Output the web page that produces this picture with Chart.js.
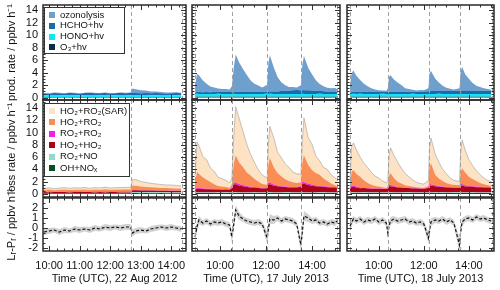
<!DOCTYPE html>
<html>
<head>
<meta charset="utf-8">
<script src="https://cdn.jsdelivr.net/npm/chart.js@4/dist/chart.umd.min.js"></script>
<style>
  html, body { margin: 0; padding: 0; background: #fff; }
  #wrap { position: relative; width: 500px; height: 290px; }
  #wrap canvas { position: absolute; left: 0; top: 0; }
</style>
</head>
<body>
<div id="wrap"></div>
<script>
// ---- 22 Aug 2012 ----
const col1Times = ['09:50','10:00','10:10','10:20','10:30','10:40','10:50','11:00','11:10','11:20',
  '11:30','11:40','11:50','12:00','12:10','12:20','12:30','12:40','12:44','12:50',
  '13:00','13:10','13:20','13:30','13:40','13:50','14:00','14:10','14:20'];
const col1Ozonolysis = [0.05,0.06,0.05,0.07,0.05,0.06,0.08,0.05,0.07,0.06,
  0.08,0.06,0.07,0.08,0.06,0.07,0.08,0.1,0.7,0.6,
  0.5,0.4,0.3,0.25,0.2,0.15,0.12,0.1,0.1];
const col1Hcho = [0.3,0.22,0.35,0.28,0.25,0.33,0.3,0.24,0.32,0.36,
  0.27,0.3,0.34,0.26,0.3,0.36,0.29,0.33,0.35,0.31,
  0.28,0.33,0.3,0.36,0.29,0.27,0.32,0.35,0.3];
const col1Hono = [0.3,0.31,0.3,0.32,0.3,0.31,0.29,0.3,0.31,0.3,
  0.32,0.3,0.31,0.3,0.29,0.31,0.3,0.3,0.31,0.32,
  0.3,0.31,0.3,0.29,0.3,0.31,0.3,0.3,0.29];
const col1O3 = [0.08,0.08,0.09,0.08,0.08,0.09,0.08,0.08,0.08,0.09,
  0.08,0.08,0.09,0.08,0.08,0.08,0.09,0.08,0.08,0.08,
  0.09,0.08,0.08,0.08,0.09,0.08,0.08,0.08,0.08];
const col1Sar = [0.25,0.3,0.22,0.28,0.32,0.25,0.3,0.27,0.33,0.26,
  0.3,0.28,0.34,0.27,0.31,0.3,0.33,0.3,0.95,1.0,
  0.85,0.75,0.65,0.6,0.55,0.5,0.52,0.48,0.45];
const col1Ho2Ro2 = [0.3,0.35,0.28,0.33,0.36,0.3,0.34,0.32,0.37,0.3,
  0.35,0.33,0.38,0.32,0.36,0.34,0.37,0.35,0.75,0.7,
  0.6,0.55,0.5,0.48,0.45,0.42,0.44,0.4,0.38];
const col1Ro2Ro2 = [0.02,0.02,0.02,0.02,0.02,0.02,0.02,0.02,0.02,0.02,
  0.02,0.02,0.02,0.02,0.02,0.02,0.02,0.02,0.04,0.04,
  0.03,0.03,0.03,0.03,0.02,0.02,0.02,0.02,0.02];
const col1Ho2Ho2 = [0.15,0.16,0.15,0.17,0.16,0.15,0.17,0.18,0.16,0.17,
  0.18,0.17,0.19,0.18,0.17,0.19,0.18,0.19,0.3,0.3,
  0.28,0.27,0.26,0.25,0.24,0.24,0.23,0.23,0.22];
const col1Ro2No = [0.05,0.05,0.04,0.05,0.05,0.06,0.05,0.05,0.05,0.04,
  0.05,0.05,0.06,0.05,0.05,0.05,0.06,0.06,0.15,0.16,
  0.15,0.14,0.15,0.14,0.13,0.14,0.13,0.12,0.12];
const col1OhNox = [0.12,0.13,0.12,0.11,0.12,0.13,0.12,0.12,0.11,0.12,
  0.13,0.12,0.12,0.11,0.12,0.13,0.12,0.12,0.14,0.14,
  0.13,0.14,0.13,0.13,0.14,0.13,0.12,0.13,0.13];
const col1Diff = [-0.4,-0.3,-0.2,-0.4,-0.2,-0.3,-0.1,-0.2,-0.1,-0.2,
  0.0,-0.1,0.1,0.0,0.1,0.0,0.1,0.1,-0.5,-0.3,
  -0.2,-0.3,-0.1,0.0,0.1,0.0,0.1,0.0,-0.1];
const col1DiffErr = [0.3,0.3,0.25,0.3,0.3,0.25,0.3,0.3,0.25,0.3,
  0.3,0.25,0.3,0.3,0.25,0.3,0.3,0.3,0.35,0.3,
  0.3,0.25,0.3,0.3,0.25,0.3,0.3,0.25,0.3];

// ---- 17 July 2013 ----
const col2Times = ['08:55','09:00','09:05','09:15','09:25','09:35','09:45','09:55','10:05','10:15',
  '10:25','10:31','10:36','10:41','10:50','11:00','11:10','11:20','11:30','11:40',
  '11:50','12:03','12:06','12:10','12:20','12:30','12:40','12:50','13:00','13:10',
  '13:20','13:31','13:35','13:39','13:50','14:00','14:10','14:20','14:30','14:40',
  '14:50','15:00','15:05'];
const col2Ozonolysis = [1.0,2.9,2.7,1.9,1.3,0.9,0.7,0.55,0.45,0.5,
  0.4,0.9,3.9,6.0,4.7,3.7,2.7,1.8,1.3,1.0,
  0.7,1.1,4.5,5.8,3.9,2.3,1.4,0.9,0.6,0.5,
  0.4,0.8,4.1,5.5,3.6,2.6,1.7,1.1,0.8,0.6,
  0.5,0.55,0.4];
const col2Hcho = [0.3,0.32,0.3,0.28,0.33,0.3,0.32,0.3,0.35,0.32,
  0.3,0.33,0.35,0.32,0.34,0.3,0.33,0.35,0.32,0.36,
  0.34,0.35,0.38,0.36,0.4,0.42,0.45,0.5,0.55,0.6,
  0.62,0.6,0.62,0.58,0.6,0.55,0.5,0.48,0.45,0.42,
  0.4,0.42,0.4];
const col2Hono = [0.45,0.47,0.44,0.46,0.45,0.43,0.46,0.48,0.45,0.44,
  0.46,0.45,0.47,0.44,0.45,0.46,0.43,0.45,0.47,0.45,
  0.44,0.46,0.45,0.48,0.45,0.44,0.46,0.45,0.43,0.45,
  0.46,0.44,0.47,0.45,0.46,0.44,0.45,0.47,0.45,0.44,
  0.46,0.45,0.44];
const col2O3 = [0.12,0.12,0.13,0.12,0.11,0.12,0.12,0.13,0.12,0.12,
  0.11,0.12,0.13,0.12,0.12,0.12,0.13,0.12,0.11,0.12,
  0.12,0.13,0.12,0.12,0.12,0.11,0.12,0.13,0.12,0.12,
  0.12,0.12,0.13,0.12,0.11,0.12,0.12,0.13,0.12,0.12,
  0.12,0.11,0.12];
const col2Sar = [1.2,4.9,4.6,3.4,3.3,2.3,2.1,1.4,1.3,1.1,
  0.8,1.0,4.5,7.9,7.2,5.8,4.6,3.4,2.7,1.9,
  1.5,1.1,3.4,5.1,4.8,3.4,3.0,2.5,2.2,1.7,
  1.5,1.3,3.8,6.1,4.5,4.2,2.8,2.3,1.8,1.9,
  1.4,1.2,1.1];
const col2Ho2Ro2 = [1.05,2.55,2.3,1.8,1.45,1.1,0.8,0.55,0.45,0.35,
  0.25,0.55,3.15,4.45,3.5,2.95,2.2,1.85,1.3,1.0,
  0.65,0.47,2.75,4.05,2.85,2.0,1.65,1.2,0.95,0.77,
  0.67,0.65,3.25,4.35,3.05,2.35,2.0,1.8,1.25,0.9,
  0.57,0.3,0.25];
const col2Ro2Ro2 = [0.1,0.2,0.15,0.1,0.1,0.08,0.05,0.05,0.05,0.05,
  0.05,0.1,0.3,0.3,0.25,0.2,0.15,0.1,0.1,0.08,
  0.05,0.08,0.3,0.3,0.2,0.15,0.1,0.1,0.1,0.08,
  0.08,0.1,0.3,0.3,0.2,0.2,0.15,0.1,0.1,0.1,
  0.08,0.08,0.05];
const col2Ho2Ho2 = [0.4,0.6,0.6,0.55,0.5,0.5,0.5,0.45,0.45,0.45,
  0.45,0.7,1.3,1.3,1.1,1.0,0.9,0.8,0.75,0.7,
  0.65,0.7,1.3,1.3,1.1,1.0,0.9,0.85,0.8,0.8,
  0.8,0.9,1.4,1.4,1.2,1.1,1.0,0.95,0.9,0.85,
  0.8,0.8,0.75];
const col2Ro2No = [0.1,0.1,0.11,0.1,0.09,0.1,0.1,0.11,0.1,0.1,
  0.09,0.1,0.11,0.1,0.1,0.1,0.09,0.1,0.11,0.1,
  0.1,0.1,0.11,0.1,0.09,0.1,0.1,0.11,0.1,0.1,
  0.09,0.1,0.11,0.1,0.1,0.1,0.09,0.1,0.11,0.1,
  0.1,0.1,0.1];
const col2OhNox = [0.16,0.15,0.14,0.15,0.16,0.15,0.14,0.15,0.15,0.16,
  0.15,0.14,0.15,0.16,0.15,0.15,0.14,0.15,0.16,0.15,
  0.15,0.14,0.15,0.16,0.15,0.14,0.15,0.15,0.16,0.15,
  0.14,0.15,0.16,0.15,0.15,0.14,0.15,0.16,0.15,0.15,
  0.14,0.15,0.15];
const col2Diff = [-0.9,0.1,0.8,0.5,0.7,0.4,0.6,0.5,0.6,0.4,
  0.3,-0.9,0.4,1.8,1.2,0.9,0.7,0.6,0.5,0.6,
  0.4,-1.0,-0.2,0.9,0.8,1.0,0.7,0.9,0.8,0.7,
  0.4,-1.7,-0.3,1.2,1.0,0.7,0.8,0.5,0.6,0.4,
  0.6,0.5,0.7];
const col2DiffErr = [0.5,0.5,0.4,0.3,0.3,0.3,0.3,0.3,0.3,0.3,
  0.3,0.6,0.6,0.5,0.4,0.3,0.3,0.3,0.3,0.3,
  0.3,0.6,0.6,0.5,0.4,0.3,0.3,0.3,0.3,0.3,
  0.3,0.7,0.6,0.5,0.4,0.3,0.3,0.3,0.3,0.3,
  0.3,0.3,0.3];

// ---- 18 July 2013 ----
const col3Times = ['08:43','08:47','08:52','09:00','09:10','09:20','09:30','09:40','09:50','10:00',
  '10:10','10:20','10:24','10:27','10:31','10:40','10:50','11:00','11:10','11:20',
  '11:30','11:40','11:50','12:00','12:12','12:15','12:19','12:30','12:40','12:50',
  '13:00','13:10','13:20','13:35','13:38','13:42','13:50','14:00','14:10','14:20',
  '14:30','14:40','14:50','15:00'];
const col3Ozonolysis = [0.8,3.0,3.4,2.6,1.9,1.3,0.9,0.6,0.4,0.3,
  0.25,0.2,0.6,2.4,2.7,2.0,1.5,1.1,0.6,0.45,
  0.3,0.2,0.25,0.2,0.5,2.9,3.2,2.0,1.3,0.8,
  0.5,0.3,0.2,0.4,3.0,3.8,2.6,1.9,1.2,0.8,
  0.6,0.4,0.3,0.2];
const col3Hcho = [0.32,0.3,0.33,0.31,0.3,0.34,0.32,0.3,0.33,0.31,
  0.3,0.32,0.34,0.33,0.3,0.32,0.34,0.31,0.33,0.35,
  0.34,0.36,0.38,0.4,0.42,0.44,0.45,0.48,0.5,0.52,
  0.5,0.53,0.55,0.52,0.54,0.56,0.55,0.53,0.55,0.52,
  0.5,0.52,0.5,0.48];
const col3Hono = [0.45,0.44,0.46,0.45,0.47,0.44,0.45,0.46,0.44,0.45,
  0.47,0.45,0.44,0.46,0.45,0.43,0.45,0.46,0.44,0.45,
  0.47,0.45,0.44,0.46,0.45,0.44,0.46,0.45,0.47,0.44,
  0.45,0.46,0.44,0.45,0.47,0.45,0.44,0.46,0.45,0.44,
  0.46,0.45,0.44,0.45];
const col3O3 = [0.12,0.12,0.13,0.12,0.12,0.11,0.12,0.12,0.13,0.12,
  0.12,0.12,0.11,0.12,0.13,0.12,0.12,0.12,0.11,0.12,
  0.12,0.13,0.12,0.12,0.12,0.11,0.12,0.12,0.13,0.12,
  0.12,0.12,0.11,0.12,0.13,0.12,0.12,0.12,0.11,0.12,
  0.12,0.13,0.12,0.12];
const col3Sar = [0.8,4.0,4.4,3.9,3.2,2.8,2.5,2.0,1.6,1.4,
  1.0,0.8,0.9,3.2,4.1,3.7,3.2,2.5,1.9,1.5,
  1.1,0.8,0.65,0.6,0.9,3.2,4.1,3.4,2.7,1.9,
  1.5,1.0,0.7,0.6,3.2,4.6,3.7,2.8,2.2,1.7,
  1.3,1.0,0.8,0.7];
const col3Ho2Ro2 = [0.4,2.25,2.55,2.1,1.75,1.15,0.82,0.6,0.4,0.3,
  0.25,0.15,0.4,1.55,1.95,1.3,0.85,0.6,0.37,0.3,
  0.25,0.15,0.15,0.1,0.27,2.7,3.4,1.7,1.25,0.9,
  0.67,0.5,0.45,0.35,2.0,2.6,2.05,1.45,1.15,0.9,
  0.62,0.5,0.3,0.25];
const col3Ro2Ro2 = [0.05,0.2,0.2,0.15,0.1,0.1,0.08,0.05,0.05,0.05,
  0.05,0.05,0.05,0.2,0.2,0.15,0.1,0.1,0.08,0.05,
  0.05,0.05,0.05,0.05,0.08,0.25,0.25,0.15,0.1,0.1,
  0.08,0.05,0.05,0.05,0.25,0.25,0.2,0.15,0.1,0.1,
  0.08,0.05,0.05,0.05];
const col3Ho2Ho2 = [0.5,0.9,0.9,0.8,0.7,0.7,0.65,0.6,0.6,0.6,
  0.55,0.55,0.6,1.0,1.0,0.9,0.8,0.75,0.7,0.7,
  0.65,0.65,0.6,0.6,0.7,1.1,1.1,1.0,0.9,0.85,
  0.8,0.8,0.75,0.75,1.1,1.1,1.0,0.95,0.9,0.85,
  0.85,0.8,0.8,0.75];
const col3Ro2No = [0.1,0.1,0.11,0.1,0.09,0.1,0.1,0.11,0.1,0.1,
  0.09,0.1,0.11,0.1,0.1,0.1,0.09,0.1,0.11,0.1,
  0.1,0.1,0.11,0.1,0.09,0.1,0.1,0.11,0.1,0.1,
  0.09,0.1,0.11,0.1,0.1,0.1,0.09,0.1,0.11,0.1,
  0.1,0.1,0.1,0.1];
const col3OhNox = [0.15,0.16,0.15,0.14,0.15,0.16,0.15,0.14,0.15,0.15,
  0.16,0.15,0.14,0.15,0.16,0.15,0.15,0.14,0.15,0.16,
  0.15,0.15,0.14,0.15,0.16,0.15,0.14,0.15,0.15,0.16,
  0.15,0.14,0.15,0.16,0.15,0.15,0.14,0.15,0.16,0.15,
  0.15,0.14,0.15,0.15];
const col3Diff = [0.2,0.5,0.9,0.7,0.9,0.6,0.8,0.7,0.9,0.6,
  0.8,0.5,-0.5,0.2,0.7,0.9,0.7,0.8,0.9,0.6,
  0.7,0.5,0.6,0.4,-1.0,-0.2,0.6,0.8,0.7,0.9,
  0.6,0.8,0.5,-1.7,-0.4,0.6,0.9,1.0,0.8,1.1,
  0.9,1.0,0.8,0.7];
const col3DiffErr = [0.4,0.4,0.3,0.3,0.3,0.3,0.3,0.3,0.3,0.3,
  0.3,0.3,0.6,0.5,0.4,0.3,0.3,0.3,0.3,0.3,
  0.3,0.3,0.3,0.3,0.6,0.6,0.4,0.3,0.3,0.3,
  0.3,0.3,0.3,0.7,0.6,0.4,0.3,0.3,0.3,0.3,
  0.3,0.3,0.3,0.3];

// axis ranges, tick labels, cycle markers
const col1Range = ['09:48', '14:29'];
const col2Range = ['08:47', '15:13'];
const col3Range = ['08:35', '15:07'];
const col1Hours = [10, 11, 12, 13, 14];
const col2Hours = [10, 12, 14];
const col3Hours = [10, 12, 14];
const col1Cycles = ['12:41', '14:21'];
const col2Cycles = ['08:55', '10:31', '12:03', '13:31', '15:05'];
const col3Cycles = ['08:43', '10:24', '12:13', '13:36', '15:01'];
const prodTicks = [0, 2, 4, 6, 8, 10, 12, 14];
const lossTicks = [0, 2, 4, 6, 8, 10, 12, 14];
const diffTicks = [-2, -1, 0, 1, 2];

const FONT = "'Liberation Sans', Arial, sans-serif";

function toHours(t) {
	const [h, m] = t.split(':').map(Number);
	return h + m / 60;
}

function pts(times, vals) {
	return times.map((t, i) => ({ x: toHours(t), y: vals[i] }));
}

function area(label, times, vals, color, fill, border) {
	return {
		label: label,
		data: pts(times, vals),
		backgroundColor: color,
		borderColor: border || color,
		borderWidth: border ? 0.7 : 0,
		pointRadius: 0,
		fill: fill,
	};
}

function prodSets(times, o3, hono, hcho, ozo) {
	return [
		area('O₃+hv', times, o3, '#0b2c48', 'origin'),
		area('HONO+hv', times, hono, '#14e3f5', '-1'),
		area('HCHO+hv', times, hcho, '#1b6ab0', '-1'),
		area('ozonolysis', times, ozo, '#6f9fcc', '-1'),
	];
}

function lossSets(times, ohnox, ro2no, ho2ho2, ro2ro2, ho2ro2, sar) {
	return [
		area('OH+NOₓ', times, ohnox, '#0b4d1f', 'origin'),
		area('RO₂+NO', times, ro2no, '#8fdccb', '-1'),
		area('HO₂+HO₂', times, ho2ho2, '#b00018', '-1'),
		area('RO₂+RO₂', times, ro2ro2, '#f01ef0', '-1'),
		area('HO₂+RO₂', times, ho2ro2, '#fa8c55', '-1'),
		area('HO₂+RO₂(SAR)', times, sar, '#fde2c4', '-1', 'rgba(150,150,150,0.8)'),
	];
}

// band first, dashed line drawn on top (lower order = drawn last)
function diffSets(times, diff, err) {
	return [
		{ data: pts(times, diff.map((v, i) => v - err[i])), borderWidth: 0, pointRadius: 0,
			fill: false, order: 2 },
		{ data: pts(times, diff.map((v, i) => v + err[i])), borderWidth: 0, pointRadius: 0,
			backgroundColor: '#d2d2d2', fill: '-1', order: 1 },
		{ data: pts(times, diff), borderColor: '#111', borderWidth: 1.2, borderDash: [3, 2],
			pointRadius: 0, fill: false, order: 0 },
	];
}

function drawLegend(chart, lg) {
	const ctx = chart.ctx;
	const items = chart.data.datasets.filter(d => d.label).slice().reverse();
	ctx.fillStyle = '#fff';
	ctx.fillRect(lg.x, lg.y, lg.w, lg.h);
	ctx.strokeStyle = '#333';
	ctx.lineWidth = 1;
	ctx.strokeRect(lg.x + 0.5, lg.y + 0.5, lg.w, lg.h);
	ctx.font = lg.size + 'px ' + FONT;
	ctx.textBaseline = 'middle';
	ctx.textAlign = 'left';
	items.forEach((d, i) => {
		const cy = lg.y + lg.first + i * lg.rowH;
		ctx.fillStyle = d.backgroundColor;
		ctx.fillRect(lg.x + 5, Math.round(cy - 3), 6, 6);
		ctx.fillStyle = '#111';
		ctx.fillText(d.label, lg.x + 16, cy);
	});
}

// dashed cycle lines, inward ticks, frame, legend, y title
const panelPlugin = {
	id: 'panel',
	afterDatasetsDraw(chart, args, opts) {
		const ctx = chart.ctx;
		const a = chart.chartArea;
		const x = chart.scales.x;
		const y = chart.scales.y;
		ctx.save();

		ctx.strokeStyle = '#a0a0a0';
		ctx.lineWidth = 1;
		ctx.setLineDash([4, 3]);
		opts.cycles.forEach(t => {
			const px = Math.round(x.getPixelForValue(toHours(t))) + 0.5;
			ctx.beginPath();
			ctx.moveTo(px, a.top);
			ctx.lineTo(px, a.bottom);
			ctx.stroke();
		});
		ctx.setLineDash([]);

		ctx.strokeStyle = '#333';
		ctx.lineWidth = 1;
		const xTick = (v, len) => {
			const px = Math.round(x.getPixelForValue(v)) + 0.5;
			ctx.beginPath();
			ctx.moveTo(px, a.bottom);
			ctx.lineTo(px, a.bottom - len);
			ctx.moveTo(px, a.top);
			ctx.lineTo(px, a.top + len);
			ctx.stroke();
		};
		const yTick = (v, len) => {
			const py = Math.round(y.getPixelForValue(v)) + 0.5;
			ctx.beginPath();
			ctx.moveTo(a.left, py);
			ctx.lineTo(a.left + len, py);
			ctx.moveTo(a.right, py);
			ctx.lineTo(a.right - len, py);
			ctx.stroke();
		};
		for (let v = Math.ceil(x.min / opts.xMinor) * opts.xMinor; v < x.max; v += opts.xMinor) xTick(v, 2.5);
		x.ticks.forEach(t => xTick(t.value, 5));
		for (let v = Math.ceil(y.min / opts.yMinor) * opts.yMinor; v < y.max; v += opts.yMinor) yTick(v, 2.5);
		y.ticks.forEach(t => yTick(t.value, 5));

		ctx.strokeStyle = '#2a2a2a';
		ctx.lineWidth = 1.5;
		ctx.strokeRect(a.left, a.top, a.right - a.left, a.bottom - a.top);

		if (opts.legend) drawLegend(chart, opts.legend);

		if (opts.yTitle) {
			ctx.translate(12, (a.top + a.bottom) / 2);
			ctx.rotate(-Math.PI / 2);
			ctx.font = '11px ' + FONT;
			ctx.fillStyle = '#111';
			ctx.textAlign = 'center';
			ctx.textBaseline = 'middle';
			ctx.fillText(opts.yTitle, 0, 0);
		}
		ctx.restore();
	},
};

const cols = [
	{ left: 43, right: 186, range: col1Range, hours: col1Hours, cycles: col1Cycles, xMinor: 0.25,
		title: 'Time (UTC), 22 Aug 2012',
		sets: [prodSets(col1Times, col1O3, col1Hono, col1Hcho, col1Ozonolysis),
			lossSets(col1Times, col1OhNox, col1Ro2No, col1Ho2Ho2, col1Ro2Ro2, col1Ho2Ro2, col1Sar),
			diffSets(col1Times, col1Diff, col1DiffErr)] },
	{ left: 192, right: 340, range: col2Range, hours: col2Hours, cycles: col2Cycles, xMinor: 0.5,
		title: 'Time (UTC), 17 July 2013',
		sets: [prodSets(col2Times, col2O3, col2Hono, col2Hcho, col2Ozonolysis),
			lossSets(col2Times, col2OhNox, col2Ro2No, col2Ho2Ho2, col2Ro2Ro2, col2Ho2Ro2, col2Sar),
			diffSets(col2Times, col2Diff, col2DiffErr)] },
	{ left: 347, right: 494, range: col3Range, hours: col3Hours, cycles: col3Cycles, xMinor: 0.5,
		title: 'Time (UTC), 18 July 2013',
		sets: [prodSets(col3Times, col3O3, col3Hono, col3Hcho, col3Ozonolysis),
			lossSets(col3Times, col3OhNox, col3Ro2No, col3Ho2Ho2, col3Ro2Ro2, col3Ho2Ro2, col3Sar),
			diffSets(col3Times, col3Diff, col3DiffErr)] },
];

const rows = [
	{ top: 5, bottom: 100, ticks: prodTicks, min: -0.4, max: 14.8, yMinor: 0.5, stacked: true,
		title: 'prod. rate / ppbv h⁻¹',
		legend: { x: 44, y: 7, w: 80, h: 46, rowH: 10.8, first: 8, size: 9.5 } },
	{ top: 100, bottom: 197, ticks: lossTicks, min: -0.5, max: 15.3, yMinor: 0.5, stacked: true,
		title: 'loss rate / ppbv h⁻¹',
		legend: { x: 44, y: 103, w: 85, h: 73, rowH: 11.4, first: 8, size: 9.5 } },
	{ top: 198, bottom: 251, ticks: diffTicks, min: -2.3, max: 3.0, yMinor: 0.5, stacked: false,
		title: 'Lᵣ-Pᵣ / ppbv h⁻¹', legend: null },
];

const wrap = document.getElementById('wrap');

rows.forEach((row, r) => {
	cols.forEach((col, c) => {
		const canvas = document.createElement('canvas');
		canvas.width = 500;
		canvas.height = 290;
		wrap.appendChild(canvas);
		const isLeft = c === 0;
		const isBottom = r === 2;

		new Chart(canvas, {
			type: 'line',
			data: { datasets: col.sets[r] },
			options: {
				responsive: false,
				animation: false,
				devicePixelRatio: 1,
				layout: {
					autoPadding: false,
					padding: {
						left: isLeft ? 0 : col.left,
						right: 500 - col.right,
						top: row.top,
						bottom: isBottom ? 0 : 290 - row.bottom,
					},
				},
				elements: { line: { tension: 0 }, point: { radius: 0 } },
				plugins: {
					legend: { display: false },
					tooltip: { enabled: false },
					panel: {
						cycles: col.cycles,
						xMinor: col.xMinor,
						yMinor: row.yMinor,
						legend: isLeft ? row.legend : null,
						yTitle: isLeft ? row.title : null,
					},
				},
				scales: {
					x: {
						type: 'linear',
						min: toHours(col.range[0]),
						max: toHours(col.range[1]),
						afterBuildTicks: s => { s.ticks = col.hours.map(h => ({ value: h })); },
						afterFit: s => {
							s.height = isBottom ? 39 : 0;
							s.paddingLeft = 0;
							s.paddingRight = 0;
						},
						grid: { display: false, drawTicks: false },
						border: { display: false },
						ticks: {
							display: isBottom,
							padding: 8,
							maxRotation: 0,
							autoSkip: false,
							color: '#111',
							font: { family: FONT, size: 11 },
							callback: v => v + ':00',
						},
						title: {
							display: isBottom,
							text: col.title,
							color: '#111',
							font: { family: FONT, size: 11 },
							padding: { top: 0, bottom: 4 },
						},
					},
					y: {
						stacked: row.stacked,
						min: row.min,
						max: row.max,
						afterBuildTicks: s => { s.ticks = row.ticks.map(v => ({ value: v })); },
						afterFit: s => {
							s.width = isLeft ? 43 : 0;
							s.paddingTop = 0;
							s.paddingBottom = 0;
						},
						grid: { display: false, drawTicks: false },
						border: { display: false },
						ticks: {
							display: isLeft,
							autoSkip: false,
							padding: 5,
							color: '#111',
							font: { family: FONT, size: 11 },
						},
					},
				},
			},
			plugins: [panelPlugin],
		});
	});
});
</script>
</body>
</html>
